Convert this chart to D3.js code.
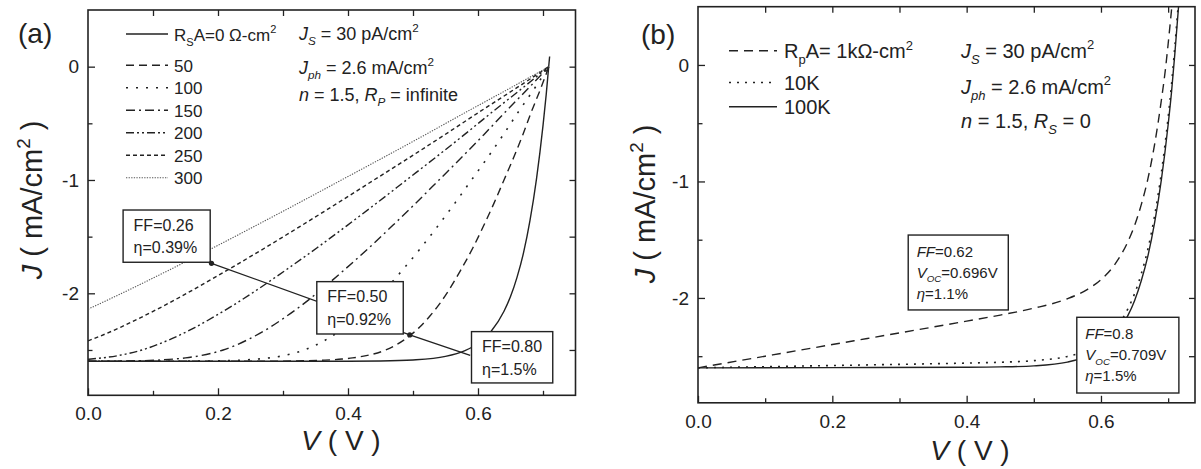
<!DOCTYPE html>
<html><head><meta charset="utf-8">
<script src="https://cdn.jsdelivr.net/npm/d3@7"></script>
<style>
html,body{margin:0;padding:0;background:#fff;}
svg{display:block;}
text{font-family:"Liberation Sans",Arial,Helvetica,sans-serif;fill:#222;}
</style></head><body>
<svg id="c" width="1201" height="469"></svg>
<script>
// ---------------- data ----------------
const xTicks = [0.0, 0.2, 0.4, 0.6];
const xMinorTicks = [0.1, 0.3, 0.5, 0.7];
const yTicks = [0, -1, -2];
const yMinorTicks = [-0.5, -1.5, -2.5];
const xDomainA = [0, 0.75], xDomainB = [0, 0.74], yDomain = [-2.9, 0.5];

// panel (a): series resistance curves [V, J]
const rsLabels = ["R_{S}A=0 Ω-cm^{2}", "50", "100", "150", "200", "250", "300"];
const curveRs0 = [[0,-2.6],[0.3,-2.6],[0.4,-2.599],[0.45,-2.597],[0.5,-2.588],[0.55,-2.557],[0.58,-2.506],[0.6,-2.443],[0.62,-2.337],[0.64,-2.158],[0.65,-2.029],[0.66,-1.859],[0.67,-1.644],[0.68,-1.357],[0.69,-0.99],[0.7,-0.52],[0.705,-0.242],[0.709,0.016],[0.7102,0.09]];
const curveRs50 = [[0,-2.6],[0.185,-2.5999],[0.274,-2.599],[0.317,-2.597],[0.364,-2.59],[0.391,-2.58],[0.407,-2.57],[0.428,-2.55],[0.458,-2.5],[0.489,-2.4],[0.510,-2.3],[0.526,-2.2],[0.540,-2.1],[0.552,-2.0],[0.573,-1.8],[0.592,-1.6],[0.609,-1.4],[0.625,-1.2],[0.640,-1.0],[0.655,-0.8],[0.669,-0.6],[0.682,-0.4],[0.696,-0.2],[0.709,0]];
const curveRs100 = [[0,-2.6],[0.055,-2.5999],[0.097,-2.5997],[0.144,-2.599],[0.187,-2.597],[0.234,-2.59],[0.262,-2.58],[0.301,-2.55],[0.333,-2.5],[0.369,-2.4],[0.395,-2.3],[0.416,-2.2],[0.435,-2.1],[0.452,-2.0],[0.483,-1.8],[0.512,-1.6],[0.539,-1.4],[0.565,-1.2],[0.590,-1.0],[0.615,-0.8],[0.639,-0.6],[0.662,-0.4],[0.686,-0.2],[0.709,0]];
const curveRs150 = [[0,-2.5993],[0.014,-2.599],[0.057,-2.597],[0.105,-2.59],[0.133,-2.58],[0.150,-2.57],[0.173,-2.55],[0.208,-2.5],[0.249,-2.4],[0.280,-2.3],[0.306,-2.2],[0.330,-2.1],[0.352,-2.0],[0.393,-1.8],[0.432,-1.6],[0.469,-1.4],[0.505,-1.2],[0.540,-1.0],[0.575,-0.8],[0.609,-0.6],[0.642,-0.4],[0.676,-0.2],[0.709,0]];
const curveRs200 = [[0,-2.582],[0.022,-2.57],[0.046,-2.55],[0.083,-2.5],[0.129,-2.4],[0.165,-2.3],[0.196,-2.2],[0.225,-2.1],[0.252,-2.0],[0.303,-1.8],[0.352,-1.6],[0.399,-1.4],[0.445,-1.2],[0.490,-1.0],[0.535,-0.8],[0.579,-0.6],[0.622,-0.4],[0.666,-0.2],[0.709,0]];
const curveRs250 = [[0,-2.42],[0.009,-2.4],[0.050,-2.3],[0.086,-2.2],[0.120,-2.1],[0.152,-2.0],[0.213,-1.8],[0.272,-1.6],[0.329,-1.4],[0.385,-1.2],[0.440,-1.0],[0.495,-0.8],[0.549,-0.6],[0.602,-0.4],[0.656,-0.2],[0.709,0]];
const curveRs300 = [[0,-2.14],[0.015,-2.1],[0.052,-2.0],[0.123,-1.8],[0.192,-1.6],[0.259,-1.4],[0.325,-1.2],[0.390,-1.0],[0.455,-0.8],[0.519,-0.6],[0.582,-0.4],[0.646,-0.2],[0.709,0]];
const paramsA = ["*J*_{*S*} = 30 pA/cm^{2}", "*J*_{*ph*} = 2.6 mA/cm^{2}", "*n* = 1.5, *R*_{*P*} = infinite"];
const boxLinesA = [["FF=0.26","η=0.39%"],["FF=0.50","η=0.92%"],["FF=0.80","η=1.5%"]];
const boxCornersA = [[0.054,-1.265,0.188,-1.726],[0.352,-1.897,0.485,-2.359],[0.590,-2.338,0.715,-2.791]];
const connectorA = [[0.190,-1.735],[0.495,-2.367],[0.588,-2.548]];

// panel (b): shunt resistance curves [V, J]
const rpLabels = ["R_{p}A= 1kΩ-cm^{2}", "10K", "100K"];
const curveRp1k = [[0,-2.6],[0.1,-2.5],[0.2,-2.4],[0.3,-2.3],[0.4,-2.199],[0.45,-2.147],[0.5,-2.088],[0.55,-2.007],[0.58,-1.926],[0.6,-1.843],[0.62,-1.717],[0.64,-1.518],[0.65,-1.379],[0.66,-1.199],[0.67,-0.974],[0.68,-0.677],[0.69,-0.30],[0.696,-0.035],[0.70,0.18],[0.7055,0.5]];
const curveRp10k = [[0,-2.6],[0.1,-2.59],[0.2,-2.58],[0.3,-2.57],[0.4,-2.559],[0.45,-2.552],[0.5,-2.538],[0.55,-2.502],[0.58,-2.448],[0.6,-2.383],[0.62,-2.275],[0.64,-2.094],[0.65,-1.964],[0.66,-1.793],[0.67,-1.577],[0.68,-1.289],[0.69,-0.921],[0.70,-0.45],[0.705,-0.17],[0.71,0.16],[0.7148,0.5]];
const curveRp100k = [[0,-2.6],[0.2,-2.598],[0.4,-2.595],[0.45,-2.592],[0.5,-2.583],[0.55,-2.551],[0.58,-2.5],[0.6,-2.437],[0.62,-2.331],[0.64,-2.152],[0.65,-2.023],[0.66,-1.852],[0.67,-1.637],[0.68,-1.350],[0.69,-0.983],[0.70,-0.513],[0.705,-0.235],[0.71,0.097],[0.7155,0.5]];
const paramsB = ["*J*_{*S*} = 30 pA/cm^{2}", "*J*_{*ph*} = 2.6 mA/cm^{2}", "*n* = 1.5, *R*_{*S*} = 0"];
const boxLinesB = [["*FF*=0.62","*V*_{*OC*}=0.696V","*η*=1.1%"],["*FF*=0.8","*V*_{*OC*}=0.709V","*η*=1.5%"]];
const boxCornersB = [[0.313,-1.460,0.462,-2.103],[0.564,-2.166,0.716,-2.816]];

// ---------------- styles ----------------
const INK = "#222";
const dashA = [null, "8,5", "2,8", "9,4,2,4", "8,3,2,3,2,3", "4,3", "1.3,1.3"];
const dashB = ["9,6", "2,6", null];

const svg = d3.select("#c");

function rich(sel, markup, size) {
  const segs = []; let it = false, mode = "n", buf = "";
  const push = () => { if (buf) { segs.push({t: buf, it, mode}); buf = ""; } };
  for (let i = 0; i < markup.length; i++) {
    const c = markup[i];
    if (c === "*") { push(); it = !it; }
    else if ((c === "_" || c === "^") && markup[i+1] === "{") { push(); mode = c === "_" ? "sub" : "sup"; i++; }
    else if (c === "}" && mode !== "n") { push(); mode = "n"; }
    else buf += c;
  }
  push();
  let cur = 0;
  segs.forEach(s => {
    const target = s.mode === "sub" ? size*0.3 : s.mode === "sup" ? -size*0.42 : 0;
    const ts = sel.append("tspan").text(s.t).attr("dy", target - cur);
    cur = target;
    if (s.mode !== "n") ts.attr("font-size", size*0.65);
    if (s.it) ts.attr("font-style", "italic");
  });
  return sel;
}

function frame(x, y, id) {
  const [x0, x1] = x.range(), [y0, y1] = y.range();
  const g = svg.append("g");
  const style = a => a.attr("color", INK).attr("font-size", 19).call(s => s.selectAll(".domain").remove())
                      .call(s => s.selectAll("line").attr("stroke-width", 1.3));
  g.append("g").attr("transform", `translate(0,${y0})`)
    .call(d3.axisBottom(x).tickValues(xTicks).tickSizeInner(-7).tickSizeOuter(0).tickPadding(11.5).tickFormat(d3.format(".1f"))).call(style);
  g.append("g").attr("transform", `translate(0,${y0})`)
    .call(d3.axisBottom(x).tickValues(xMinorTicks.filter(v => v < x.domain()[1])).tickSizeInner(-4.5).tickSizeOuter(0).tickFormat(() => "")).call(style);
  g.append("g").attr("transform", `translate(0,${y1})`)
    .call(d3.axisTop(x).tickValues(xTicks.concat(xMinorTicks).filter(v => v > 0 && v < x.domain()[1])).tickSizeInner(-6).tickSizeOuter(0).tickFormat(() => "")).call(style);
  g.append("g").attr("transform", `translate(${x0},0)`)
    .call(d3.axisLeft(y).tickValues(yTicks).tickSizeInner(-7).tickSizeOuter(0).tickPadding(9).tickFormat(d => String(d))).call(style);
  g.append("g").attr("transform", `translate(${x0},0)`)
    .call(d3.axisLeft(y).tickValues(yMinorTicks).tickSizeInner(-4.5).tickSizeOuter(0).tickFormat(() => "")).call(style);
  g.append("g").attr("transform", `translate(${x1},0)`)
    .call(d3.axisRight(y).tickValues(yTicks.concat(yMinorTicks)).tickSizeInner(-6).tickSizeOuter(0).tickFormat(() => "")).call(style);
  g.append("rect").attr("x", x0).attr("y", y1).attr("width", x1 - x0).attr("height", y0 - y1)
    .attr("fill", "none").attr("stroke", INK).attr("stroke-width", 1.6);
  svg.append("clipPath").attr("id", id).append("rect")
    .attr("x", x0).attr("y", y1).attr("width", x1 - x0).attr("height", y0 - y1);
}

function curves(x, y, list, dashes, id, widths) {
  const line = d3.line().x(d => x(d[0])).y(d => y(d[1])).curve(d3.curveMonotoneX);
  const g = svg.append("g").attr("clip-path", `url(#${id})`);
  list.forEach((c, i) => {
    g.append("path").attr("d", line(c)).attr("fill", "none")
      .attr("stroke", i === 6 && list.length === 7 ? "#555" : INK)
      .attr("stroke-width", widths[i])
      .attr("stroke-dasharray", dashes[i]);
  });
}

function boxes(x, y, corners, lines, size, pad, first, step) {
  corners.forEach((c, i) => {
    const l = x(c[0]), t = y(c[1]), r = x(c[2]), b = y(c[3]);
    svg.append("rect").attr("x", l).attr("y", t).attr("width", r - l).attr("height", b - t)
      .attr("fill", "#fff").attr("stroke", INK).attr("stroke-width", 1.4);
    lines[i].forEach((s, k) => {
      rich(svg.append("text").attr("x", l + pad).attr("y", t + first + k*step).attr("font-size", size), s, size);
    });
  });
}

// ---------------- panel (a) ----------------
const xA = d3.scaleLinear(xDomainA, [88, 575.5]);
const yA = d3.scaleLinear(yDomain, [395.3, 10]);
frame(xA, yA, "clipA");
curves(xA, yA, [curveRs0, curveRs50, curveRs100, curveRs150, curveRs200, curveRs250, curveRs300], dashA, "clipA",
       [1.4, 1.4, 1.6, 1.4, 1.4, 1.4, 1.1]);
// connector line (behind boxes)
svg.append("path").attr("d", d3.line().x(d => xA(d[0])).y(d => yA(d[1]))(connectorA))
  .attr("fill", "none").attr("stroke", INK).attr("stroke-width", 1.3);
boxes(xA, yA, boxCornersA, boxLinesA, 16, 10.5, 20.7, 22.3);
svg.selectAll(null).data(connectorA.slice(0, 2)).join("circle")
  .attr("cx", d => xA(d[0])).attr("cy", d => yA(d[1])).attr("r", 2.6).attr("fill", INK);

// legend (a)
rsLabels.forEach((s, i) => {
  const by = i === 0 ? 40.5 : 71.7 + (i - 1)*22.5;
  svg.append("line").attr("x1", 126).attr("x2", 168).attr("y1", by - 6.5).attr("y2", by - 6.5)
    .attr("stroke", i === 6 ? "#555" : INK).attr("stroke-width", i === 6 ? 1.1 : 1.4).attr("stroke-dasharray", dashA[i]);
  rich(svg.append("text").attr("x", 174).attr("y", by).attr("font-size", 17), s, 17);
});
paramsA.forEach((s, i) => {
  rich(svg.append("text").attr("x", 299).attr("y", [40, 73.5, 101][i]).attr("font-size", 18), s, 18);
});
svg.append("text").attr("x", 18).attr("y", 43).attr("font-size", 28).text("(a)");
rich(svg.append("text").attr("transform", "translate(42,200) rotate(-90)").attr("text-anchor", "middle").attr("font-size", 29),
     "*J* ( mA/cm^{2} )", 29);
rich(svg.append("text").attr("x", 341).attr("y", 450).attr("text-anchor", "middle").attr("font-size", 28), "*V* ( V )", 28);

// ---------------- panel (b) ----------------
const xB = d3.scaleLinear(xDomainB, [698, 1195]);
const yB = d3.scaleLinear(yDomain, [402.8, 6.7]);
frame(xB, yB, "clipB");
curves(xB, yB, [curveRp1k, curveRp10k, curveRp100k], dashB, "clipB", [1.4, 1.6, 1.4]);
boxes(xB, yB, boxCornersB, boxLinesB, 15, 8.5, 21.5, 21.3);

rpLabels.forEach((s, i) => {
  const by = i === 0 ? 58.3 : 90 + (i - 1)*24.3;
  svg.append("line").attr("x1", 729).attr("x2", 777).attr("y1", by - 7.5).attr("y2", by - 7.5)
    .attr("stroke", INK).attr("stroke-width", 1.4).attr("stroke-dasharray", dashB[i]);
  rich(svg.append("text").attr("x", 784).attr("y", by).attr("font-size", 20), s, 20);
});
paramsB.forEach((s, i) => {
  rich(svg.append("text").attr("x", 961).attr("y", [57.5, 93.5, 128][i]).attr("font-size", 20), s, 20);
});
svg.append("text").attr("x", 641).attr("y", 44).attr("font-size", 28).text("(b)");
rich(svg.append("text").attr("transform", "translate(655,204) rotate(-90)").attr("text-anchor", "middle").attr("font-size", 29),
     "*J* ( mA/cm^{2} )", 29);
rich(svg.append("text").attr("x", 970).attr("y", 460).attr("text-anchor", "middle").attr("font-size", 28), "*V* ( V )", 28);
</script>
</body></html>
